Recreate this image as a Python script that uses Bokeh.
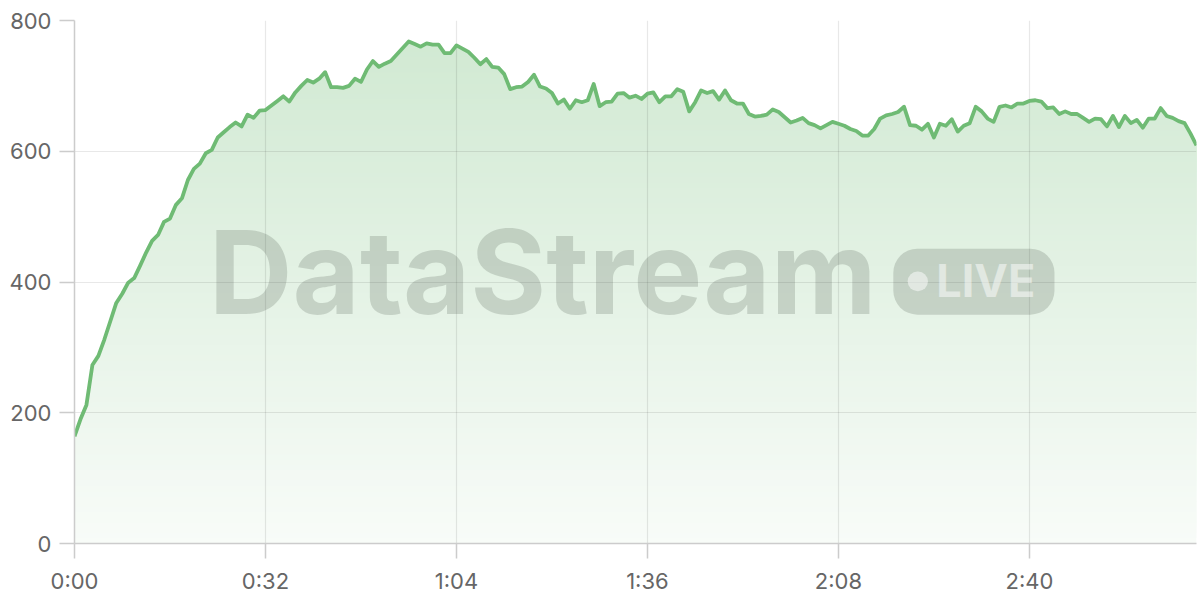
import numpy as np
from bokeh.plotting import figure
from bokeh.models import FixedTicker, Label, BoxAnnotation, Range1d
from bokeh.embed import file_html
from bokeh.resources import INLINE

# viewers per second (t = 0 .. 188 s)
viewers = [
    164, 190, 212, 273, 287, 312, 340, 368, 382, 399,
    406, 425, 445, 463, 472, 492, 497, 518, 528, 556,
    573, 581, 597, 602, 621, 629, 637, 644, 638, 656,
    651, 662, 663, 670, 677, 684, 676, 690, 700, 709,
    705, 711, 721, 698, 698, 697, 700, 711, 706, 725,
    738, 729, 734, 738, 748, 758, 768, 764, 760, 765,
    763, 763, 750, 750, 762, 757, 752, 743, 733, 741,
    729, 728, 718, 695, 698, 699, 706, 717, 699, 696,
    689, 673, 679, 665, 678, 675, 678, 703, 669, 675,
    676, 688, 689, 682, 685, 680, 688, 690, 675, 684,
    684, 695, 691, 661, 675, 693, 689, 692, 679, 693,
    678, 673, 673, 657, 653, 654, 656, 664, 660, 652,
    644, 647, 651, 643, 640, 635, 640, 645, 642, 639,
    634, 631, 624, 624, 634, 650, 655, 657, 660, 668,
    640, 639, 633, 642, 621, 642, 639, 649, 630, 639,
    643, 668, 661, 650, 645, 668, 670, 667, 673, 673,
    677, 678, 676, 666, 667, 657, 661, 657, 657, 651,
    645, 650, 649, 638, 654, 637, 654, 643, 648, 636,
    650, 650, 666, 654, 651, 646, 643, 627, 609,
]
seconds = list(range(len(viewers)))

x_ticks = [0, 32, 64, 96, 128, 160]
x_tick_labels = ["0:00", "0:32", "1:04", "1:36", "2:08", "2:40"]
y_ticks = [0, 200, 400, 600, 800]

GREEN = "#6fbb74"
GREEN_RGB = (111, 187, 116)
WM = "#3c463c"

p = figure(width=1200, height=600, output_backend="svg", toolbar_location=None,
           x_range=Range1d(0, seconds[-1]), y_range=Range1d(0, 800),
           min_border_left=74, min_border_right=4, min_border_top=20,
           min_border_bottom=57)
p.outline_line_color = None
p.background_fill_color = "white"
p.border_fill_color = "white"

x = np.array(seconds, dtype=float)
v = np.array(viewers, dtype=float)
top = v.max()


def blend(a):
    r, g, b = (int(round(255 - a * (255 - c))) for c in GREEN_RGB)
    return "#%02x%02x%02x" % (r, g, b)


# vertical gradient fill: opaque stacked layers, each covering lo..line
levels = np.arange(0, top, 8.0)
for lo in levels:
    a = 0.05 + 0.27 * lo / top
    p.varea(x=x, y1=np.minimum(v, lo), y2=v, fill_color=blend(a),
            level="image")

p.line(x=x, y=v, line_color=GREEN, line_width=3.8, line_join="round")

# watermark
p.add_layout(Label(x=22.5, y=415, text="DataStream", text_font="Inter",
                   text_font_style="bold", text_font_size="116px",
                   text_color=WM, text_alpha=0.19, text_baseline="middle",
                   text_align="left"))
p.add_layout(BoxAnnotation(left=137.2, right=164.2, bottom=350, top=451,
                           fill_color=WM, fill_alpha=0.19, line_color=None,
                           border_radius=24))
p.add_layout(BoxAnnotation(left=139.6, right=143.0, bottom=386, top=416,
                           fill_color="white", fill_alpha=0.5, line_color=None,
                           border_radius=10))
p.add_layout(Label(x=144.4, y=403, text="LIVE", text_font="Inter",
                   text_font_style="bold", text_font_size="45px",
                   text_color="white", text_alpha=0.5, text_baseline="middle",
                   text_align="left"))

# axes
p.xaxis.ticker = FixedTicker(ticks=x_ticks)
p.xaxis.major_label_overrides = dict(zip(x_ticks, x_tick_labels))
p.yaxis.ticker = FixedTicker(ticks=y_ticks)
p.xgrid.ticker = FixedTicker(ticks=x_ticks)
p.ygrid.ticker = FixedTicker(ticks=y_ticks)
for ax in (p.xaxis, p.yaxis):
    ax.axis_line_color = "#cccccc"
    ax.axis_line_width = 1.5
    ax.major_tick_line_color = "#cccccc"
    ax.major_tick_line_width = 1.5
    ax.major_tick_out = 15
    ax.major_tick_in = 0
    ax.minor_tick_line_color = None
    ax.major_label_text_font = "Inter"
    ax.major_label_text_font_size = "22px"
    ax.major_label_text_color = "#666666"
p.xaxis.major_label_standoff = 9
p.yaxis.major_label_standoff = 8
for g in (p.xgrid, p.ygrid):
    g.grid_line_color = "#000000"
    g.grid_line_alpha = 0.09
    g.grid_line_width = 1.2

open("out.html", "w").write(file_html(p, INLINE))
